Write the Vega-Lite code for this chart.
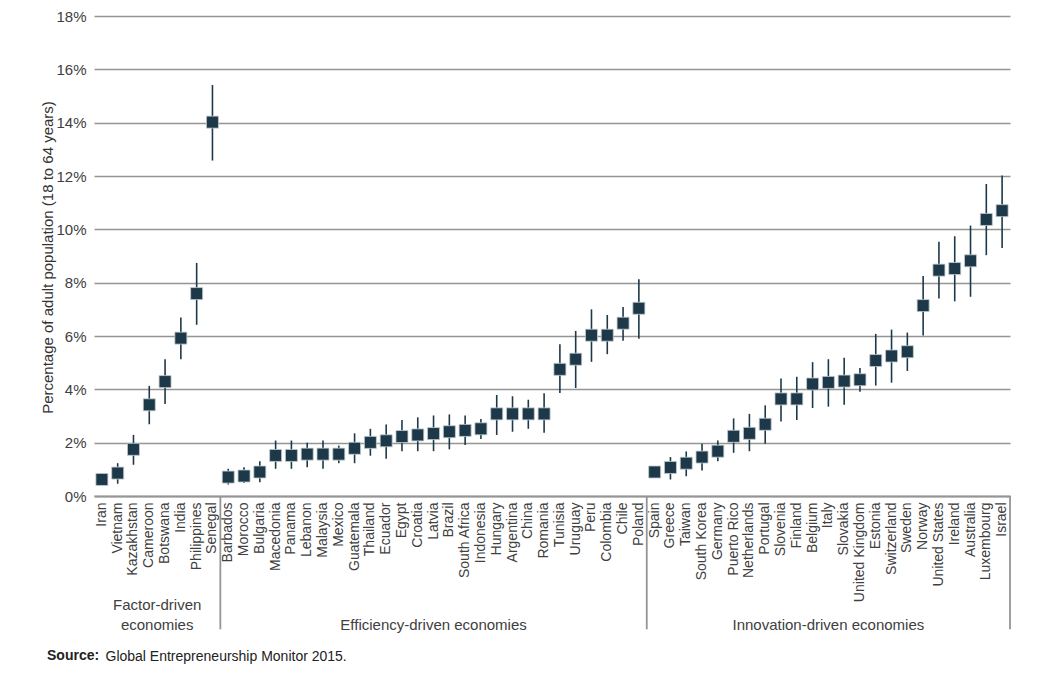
{
  "$schema": "https://vega.github.io/schema/vega-lite/v6.json",
  "autosize": "none",
  "width": 916,
  "height": 480,
  "padding": {"left": 94, "top": 16, "right": 47, "bottom": 179},
  "background": "white",
  "config": {
    "font": "Liberation Sans",
    "view": {"stroke": null}
  },
  "title": {
    "text": "Source:",
    "orient": "bottom",
    "anchor": "start",
    "frame": "group",
    "fontSize": 14,
    "fontWeight": "bold",
    "color": "#222222",
    "dx": -47,
    "offset": -14
  },
  "datasets": {
    "gem": [
      {"country": "Iran", "group": "Factor-driven", "value": 0.62, "lo": 0.5, "hi": 0.84},
      {"country": "Vietnam", "group": "Factor-driven", "value": 0.86, "lo": 0.46, "hi": 1.23},
      {"country": "Kazakhstan", "group": "Factor-driven", "value": 1.75, "lo": 1.17, "hi": 2.29},
      {"country": "Cameroon", "group": "Factor-driven", "value": 3.42, "lo": 2.69, "hi": 4.13},
      {"country": "Botswana", "group": "Factor-driven", "value": 4.29, "lo": 3.45, "hi": 5.13},
      {"country": "India", "group": "Factor-driven", "value": 5.92, "lo": 5.13, "hi": 6.69},
      {"country": "Philippines", "group": "Factor-driven", "value": 7.59, "lo": 6.42, "hi": 8.74},
      {"country": "Senegal", "group": "Factor-driven", "value": 14.02, "lo": 12.58, "hi": 15.41},
      {"country": "Barbados", "group": "Efficiency-driven", "value": 0.71, "lo": 0.43, "hi": 1.02},
      {"country": "Morocco", "group": "Efficiency-driven", "value": 0.75, "lo": 0.49, "hi": 1.08},
      {"country": "Bulgaria", "group": "Efficiency-driven", "value": 0.9, "lo": 0.52, "hi": 1.3},
      {"country": "Macedonia", "group": "Efficiency-driven", "value": 1.52, "lo": 1.02, "hi": 2.08},
      {"country": "Panama", "group": "Efficiency-driven", "value": 1.52, "lo": 1.02, "hi": 2.08},
      {"country": "Lebanon", "group": "Efficiency-driven", "value": 1.57, "lo": 1.08, "hi": 2.0},
      {"country": "Malaysia", "group": "Efficiency-driven", "value": 1.57, "lo": 1.02, "hi": 2.08},
      {"country": "Mexico", "group": "Efficiency-driven", "value": 1.57, "lo": 1.23, "hi": 1.89},
      {"country": "Guatemala", "group": "Efficiency-driven", "value": 1.79, "lo": 1.23, "hi": 2.35},
      {"country": "Thailand", "group": "Efficiency-driven", "value": 2.01, "lo": 1.51, "hi": 2.52},
      {"country": "Ecuador", "group": "Efficiency-driven", "value": 2.07, "lo": 1.4, "hi": 2.68},
      {"country": "Egypt", "group": "Efficiency-driven", "value": 2.23, "lo": 1.68, "hi": 2.85},
      {"country": "Croatia", "group": "Efficiency-driven", "value": 2.29, "lo": 1.68, "hi": 2.95},
      {"country": "Latvia", "group": "Efficiency-driven", "value": 2.34, "lo": 1.68, "hi": 3.02},
      {"country": "Brazil", "group": "Efficiency-driven", "value": 2.41, "lo": 1.75, "hi": 3.06},
      {"country": "South Africa", "group": "Efficiency-driven", "value": 2.46, "lo": 1.91, "hi": 3.02},
      {"country": "Indonesia", "group": "Efficiency-driven", "value": 2.52, "lo": 2.14, "hi": 2.89},
      {"country": "Hungary", "group": "Efficiency-driven", "value": 3.08, "lo": 2.29, "hi": 3.79},
      {"country": "Argentina", "group": "Efficiency-driven", "value": 3.08, "lo": 2.41, "hi": 3.74},
      {"country": "China", "group": "Efficiency-driven", "value": 3.08, "lo": 2.52, "hi": 3.61},
      {"country": "Romania", "group": "Efficiency-driven", "value": 3.08, "lo": 2.37, "hi": 3.85},
      {"country": "Tunisia", "group": "Efficiency-driven", "value": 4.75, "lo": 3.86, "hi": 5.69},
      {"country": "Uruguay", "group": "Efficiency-driven", "value": 5.13, "lo": 4.05, "hi": 6.19},
      {"country": "Peru", "group": "Efficiency-driven", "value": 6.03, "lo": 5.03, "hi": 7.0},
      {"country": "Colombia", "group": "Efficiency-driven", "value": 6.03, "lo": 5.32, "hi": 6.79},
      {"country": "Chile", "group": "Efficiency-driven", "value": 6.48, "lo": 5.82, "hi": 7.09},
      {"country": "Poland", "group": "Efficiency-driven", "value": 7.04, "lo": 5.9, "hi": 8.13},
      {"country": "Spain", "group": "Innovation-driven", "value": 0.9, "lo": 0.8, "hi": 1.0},
      {"country": "Greece", "group": "Innovation-driven", "value": 1.07, "lo": 0.62, "hi": 1.46},
      {"country": "Taiwan", "group": "Innovation-driven", "value": 1.23, "lo": 0.74, "hi": 1.67},
      {"country": "South Korea", "group": "Innovation-driven", "value": 1.46, "lo": 0.96, "hi": 1.96},
      {"country": "Germany", "group": "Innovation-driven", "value": 1.68, "lo": 1.3, "hi": 2.08},
      {"country": "Puerto Rico", "group": "Innovation-driven", "value": 2.24, "lo": 1.62, "hi": 2.91},
      {"country": "Netherlands", "group": "Innovation-driven", "value": 2.35, "lo": 1.68, "hi": 3.08},
      {"country": "Portugal", "group": "Innovation-driven", "value": 2.69, "lo": 1.96, "hi": 3.4},
      {"country": "Slovenia", "group": "Innovation-driven", "value": 3.64, "lo": 2.79, "hi": 4.41},
      {"country": "Finland", "group": "Innovation-driven", "value": 3.64, "lo": 2.85, "hi": 4.47},
      {"country": "Belgium", "group": "Innovation-driven", "value": 4.2, "lo": 3.3, "hi": 5.02},
      {"country": "Italy", "group": "Innovation-driven", "value": 4.26, "lo": 3.35, "hi": 5.13},
      {"country": "Slovakia", "group": "Innovation-driven", "value": 4.31, "lo": 3.42, "hi": 5.18},
      {"country": "United Kingdom", "group": "Innovation-driven", "value": 4.36, "lo": 3.91, "hi": 4.8},
      {"country": "Estonia", "group": "Innovation-driven", "value": 5.08, "lo": 4.14, "hi": 6.08},
      {"country": "Switzerland", "group": "Innovation-driven", "value": 5.25, "lo": 4.25, "hi": 6.24},
      {"country": "Sweden", "group": "Innovation-driven", "value": 5.41, "lo": 4.69, "hi": 6.13},
      {"country": "Norway", "group": "Innovation-driven", "value": 7.14, "lo": 6.02, "hi": 8.25},
      {"country": "United States", "group": "Innovation-driven", "value": 8.47, "lo": 7.41, "hi": 9.53},
      {"country": "Ireland", "group": "Innovation-driven", "value": 8.53, "lo": 7.3, "hi": 9.74},
      {"country": "Australia", "group": "Innovation-driven", "value": 8.82, "lo": 7.47, "hi": 10.14},
      {"country": "Luxembourg", "group": "Innovation-driven", "value": 10.37, "lo": 9.03, "hi": 11.7},
      {"country": "Israel", "group": "Innovation-driven", "value": 10.7, "lo": 9.3, "hi": 12.02}
    ],
    "groupLabels": [
      {"label": ["Factor-driven", "economies"], "anchor": "Botswana"}
    ],
    "groupLabels2": [
      {"label": "Efficiency-driven economies", "anchor": "Latvia"},
      {"label": "Innovation-driven economies", "anchor": "Italy"}
    ],
    "separators": [
      {"at": "Barbados"},
      {"at": "Spain"}
    ],
    "separatorsEnd": [
      {"at": "Israel"}
    ]
  },
  "layer": [
    {
      "data": {"name": "gem"},
      "mark": {"type": "rule", "color": "#1d3949", "strokeWidth": 1.6},
      "encoding": {
        "x": {
          "field": "country",
          "type": "nominal",
          "sort": null,
          "title": "Global Entrepreneurship Monitor 2015.",
          "scale": {"domain": ["Iran","Vietnam","Kazakhstan","Cameroon","Botswana","India","Philippines","Senegal","Barbados","Morocco","Bulgaria","Macedonia","Panama","Lebanon","Malaysia","Mexico","Guatemala","Thailand","Ecuador","Egypt","Croatia","Latvia","Brazil","South Africa","Indonesia","Hungary","Argentina","China","Romania","Tunisia","Uruguay","Peru","Colombia","Chile","Poland","Spain","Greece","Taiwan","South Korea","Germany","Puerto Rico","Netherlands","Portugal","Slovenia","Finland","Belgium","Italy","Slovakia","United Kingdom","Estonia","Switzerland","Sweden","Norway","United States","Ireland","Australia","Luxembourg","Israel"], "paddingInner": 0, "paddingOuter": 0},
          "axis": {
            "titleFontSize": 14,
            "titleFontWeight": "normal",
            "titleColor": "#222222",
            "titleAnchor": "start",
            "titleAlign": "left",
            "titleBaseline": "middle",
            "titleX": 11,
            "titleY": 160,
            "labelAngle": -90,
            "labelFontSize": 14,
            "labelColor": "#404040",
            "labelPadding": 6,
            "ticks": false,
            "domainColor": "#959595",
            "domainWidth": 2,
            "grid": false
          }
        },
        "y": {
          "field": "lo",
          "type": "quantitative",
          "title": "Percentage of adult population (18 to 64 years)",
          "scale": {"domain": [0, 18], "nice": false},
          "axis": {
            "titleFontSize": 15,
            "titleFontWeight": "normal",
            "titleColor": "#333333",
            "titleAngle": -90,
            "titleAlign": "center",
            "titleBaseline": "middle",
            "titleX": -47,
            "titleY": 241,
            "values": [0, 2, 4, 6, 8, 10, 12, 14, 16, 18],
            "labelExpr": "datum.value + '%'",
            "labelFontSize": 15,
            "labelColor": "#404040",
            "labelPadding": 8,
            "ticks": false,
            "domain": false,
            "grid": true,
            "gridColor": "#959595",
            "gridWidth": 1.6
          }
        },
        "y2": {"field": "hi"}
      }
    },
    {
      "data": {"name": "gem"},
      "mark": {"type": "point", "shape": "square", "filled": true, "size": 144, "color": "#1d3949", "opacity": 1, "stroke": "#c2cbd0", "strokeWidth": 0.8},
      "encoding": {
        "x": {"field": "country", "type": "nominal", "sort": null, "title": "Global Entrepreneurship Monitor 2015."},
        "y": {"field": "value", "type": "quantitative", "title": "Percentage of adult population (18 to 64 years)"}
      }
    },
    {
      "data": {"name": "separators"},
      "mark": {"type": "rule", "color": "#959595", "strokeWidth": 1.8},
      "encoding": {
        "x": {"field": "at", "type": "nominal", "sort": null, "bandPosition": 0, "title": "Global Entrepreneurship Monitor 2015."},
        "y": {"datum": 0, "type": "quantitative", "title": "Percentage of adult population (18 to 64 years)"},
        "y2": {"datum": -5.0}
      }
    },
    {
      "data": {"name": "separatorsEnd"},
      "mark": {"type": "rule", "color": "#959595", "strokeWidth": 1.8},
      "encoding": {
        "x": {"field": "at", "type": "nominal", "sort": null, "bandPosition": 1, "title": "Global Entrepreneurship Monitor 2015."},
        "y": {"datum": 0, "type": "quantitative", "title": "Percentage of adult population (18 to 64 years)"},
        "y2": {"datum": -5.0}
      }
    },
    {
      "data": {"name": "groupLabels"},
      "mark": {"type": "text", "fontSize": 15, "color": "#404040", "align": "center", "baseline": "middle", "lineHeight": 20},
      "encoding": {
        "x": {"field": "anchor", "type": "nominal", "sort": null, "bandPosition": 0, "title": "Global Entrepreneurship Monitor 2015."},
        "y": {"datum": -4.09, "type": "quantitative", "title": "Percentage of adult population (18 to 64 years)"},
        "text": {"field": "label"}
      }
    },
    {
      "data": {"name": "groupLabels2"},
      "mark": {"type": "text", "fontSize": 15, "color": "#404040", "align": "center", "baseline": "middle"},
      "encoding": {
        "x": {"field": "anchor", "type": "nominal", "sort": null, "bandPosition": 0.5, "title": "Global Entrepreneurship Monitor 2015."},
        "y": {"datum": -4.83, "type": "quantitative", "title": "Percentage of adult population (18 to 64 years)"},
        "text": {"field": "label"}
      }
    }
  ]
}
